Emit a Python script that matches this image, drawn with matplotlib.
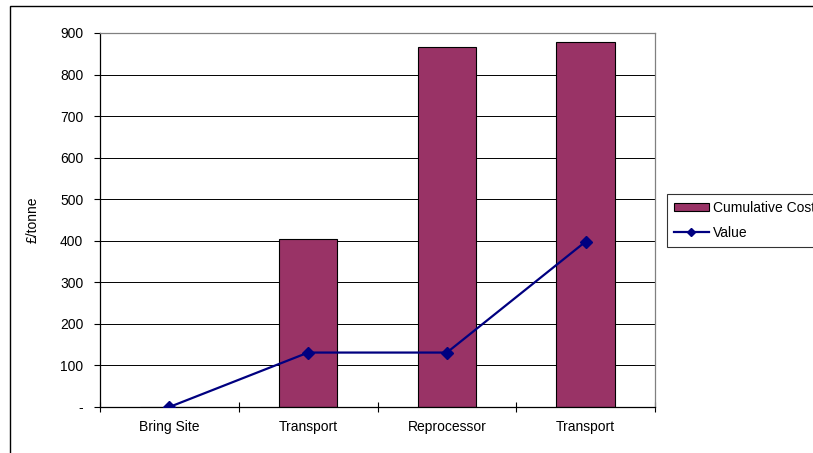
import matplotlib
matplotlib.use("Agg")
import matplotlib.pyplot as plt
from matplotlib.patches import Rectangle
from matplotlib.lines import Line2D
import numpy as np

plt.rcParams['font.family'] = ['Liberation Sans', 'DejaVu Sans']

categories = ["Bring Site", "Transport", "Reprocessor", "Transport"]
cumulative_cost = [0, 404, 867, 879]
value = [0, 131, 131, 398]
y_ticks = [0, 100, 200, 300, 400, 500, 600, 700, 800, 900]
y_tick_labels = ["-", "100", "200", "300", "400", "500", "600", "700", "800", "900"]

W, H = 813, 453
FS = 10
fig = plt.figure(figsize=(W / 100, H / 100), dpi=100)

# outer chart frame (continues past the right and bottom edges)
fig.patches.append(Rectangle((10 / W, -0.1), 1.2, 1 - 6 / H + 0.1,
                             transform=fig.transFigure, fill=False,
                             edgecolor="black", linewidth=1.0))

ax = fig.add_axes([100 / W, 1 - 407 / H, (655 - 100) / W, (407 - 33) / H])

x = np.arange(len(categories))
ax.bar(x, cumulative_cost, width=0.42, color="#993366", edgecolor="black",
       linewidth=0.8, zorder=2, label="Cumulative Cost")
ax.plot(x, value, color="#000080", linewidth=1.6, marker="D", markersize=6,
        zorder=3, label="Value")

ax.set_xlim(-0.5, len(categories) - 0.5)
ax.set_ylim(0, 900)
ax.set_yticks(y_ticks)
ax.set_yticklabels(y_tick_labels, fontsize=FS)
ax.yaxis.grid(True, color="black", linewidth=0.7, zorder=0)
ax.set_axisbelow(True)

ax.set_xticks(x)
ax.set_xticklabels(categories, fontsize=FS)
ax.set_xticks(np.arange(len(categories) + 1) - 0.5, minor=True)
ax.tick_params(axis="x", which="major", length=0, pad=9)
ax.tick_params(axis="x", which="minor", direction="inout", length=7, width=0.8)
ax.tick_params(axis="y", direction="out", length=4, width=0.8, pad=8)

ax.spines["left"].set_color("black")
ax.spines["bottom"].set_color("black")
ax.spines["top"].set_color("#808080")
ax.spines["right"].set_color("#808080")
for s in ax.spines.values():
    s.set_linewidth(0.9)

ax.set_ylabel("£/tonne", fontsize=FS)
ax.yaxis.set_label_coords((40 - 100) / (655 - 100), 0.5)

handles = [Rectangle((0, 0), 1, 1, facecolor="#993366", edgecolor="black", linewidth=0.8),
           Line2D([0], [0], color="#000080", linewidth=1.6, marker="D", markersize=4.5)]
leg = fig.legend(handles, ["Cumulative Cost", "Value"], loc="upper left",
                 bbox_to_anchor=(667 / W, 1 - 194 / H), fontsize=FS,
                 frameon=True, fancybox=False, edgecolor="black",
                 borderpad=0.5, handlelength=2.5, handleheight=0.6,
                 handletextpad=0.3, labelspacing=0.8, borderaxespad=0)
leg.get_frame().set_linewidth(0.8)

fig.savefig("out.png", dpi=100)
